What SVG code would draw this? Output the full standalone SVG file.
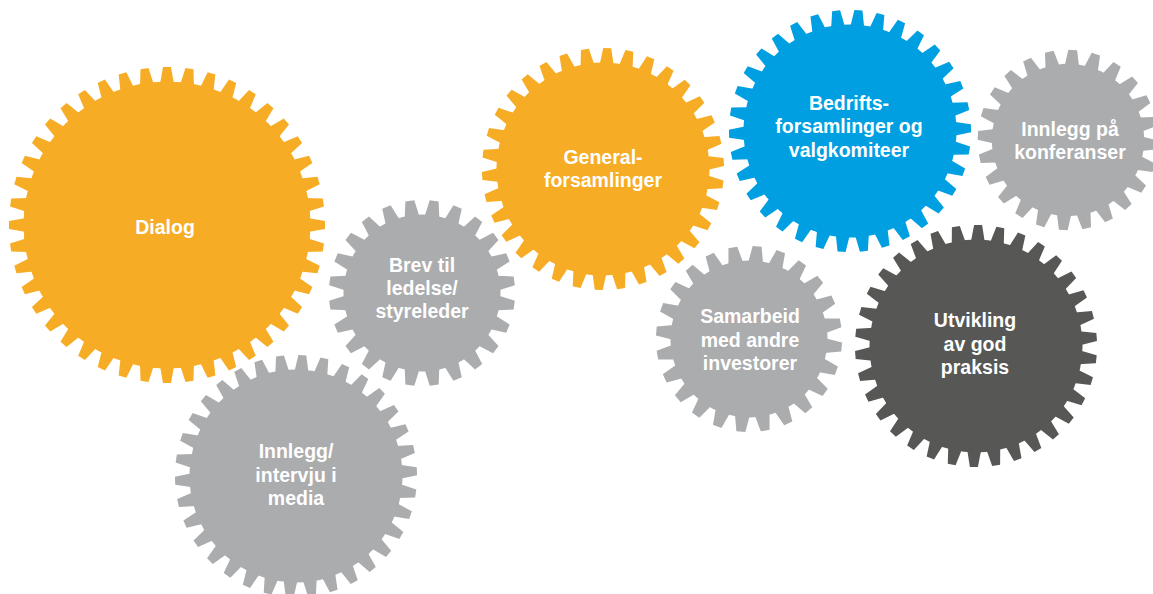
<svg xmlns="http://www.w3.org/2000/svg" xmlns:xlink="http://www.w3.org/1999/xlink" width="1153" height="594" viewBox="0 0 1153 594">
<style>
.orange{fill:#F7AC25}
.blue{fill:#009FE1}
.gray{fill:#ABACAE}
.dark{fill:#575756}
.lbl{font-family:"Liberation Sans",Arial,sans-serif;font-weight:700;font-size:19.5px;fill:#FFFFFF;text-anchor:middle}
</style>
<defs>
<polygon id="tL" points="-7,-141 -4,-158 4,-158 7,-141"/>
<polygon id="tM" points="-7,-104 -4,-121 4,-121 7,-104"/>
<polygon id="tS" points="-7.5,-76 -4.5,-93 4.5,-93 7.5,-76"/>
<g id="gearL">
<circle r="143.5"/>
<use href="#tL" transform="rotate(0)"/><use href="#tL" transform="rotate(8.1818)"/><use href="#tL" transform="rotate(16.3636)"/><use href="#tL" transform="rotate(24.5455)"/><use href="#tL" transform="rotate(32.7273)"/><use href="#tL" transform="rotate(40.9091)"/><use href="#tL" transform="rotate(49.0909)"/><use href="#tL" transform="rotate(57.2727)"/><use href="#tL" transform="rotate(65.4545)"/><use href="#tL" transform="rotate(73.6364)"/><use href="#tL" transform="rotate(81.8182)"/>
<use href="#tL" transform="rotate(90)"/><use href="#tL" transform="rotate(98.1818)"/><use href="#tL" transform="rotate(106.3636)"/><use href="#tL" transform="rotate(114.5455)"/><use href="#tL" transform="rotate(122.7273)"/><use href="#tL" transform="rotate(130.9091)"/><use href="#tL" transform="rotate(139.0909)"/><use href="#tL" transform="rotate(147.2727)"/><use href="#tL" transform="rotate(155.4545)"/><use href="#tL" transform="rotate(163.6364)"/><use href="#tL" transform="rotate(171.8182)"/>
<use href="#tL" transform="rotate(180)"/><use href="#tL" transform="rotate(188.1818)"/><use href="#tL" transform="rotate(196.3636)"/><use href="#tL" transform="rotate(204.5455)"/><use href="#tL" transform="rotate(212.7273)"/><use href="#tL" transform="rotate(220.9091)"/><use href="#tL" transform="rotate(229.0909)"/><use href="#tL" transform="rotate(237.2727)"/><use href="#tL" transform="rotate(245.4545)"/><use href="#tL" transform="rotate(253.6364)"/><use href="#tL" transform="rotate(261.8182)"/>
<use href="#tL" transform="rotate(270)"/><use href="#tL" transform="rotate(278.1818)"/><use href="#tL" transform="rotate(286.3636)"/><use href="#tL" transform="rotate(294.5455)"/><use href="#tL" transform="rotate(302.7273)"/><use href="#tL" transform="rotate(310.9091)"/><use href="#tL" transform="rotate(319.0909)"/><use href="#tL" transform="rotate(327.2727)"/><use href="#tL" transform="rotate(335.4545)"/><use href="#tL" transform="rotate(343.6364)"/><use href="#tL" transform="rotate(351.8182)"/>
</g>
<g id="gearM">
<circle r="106.5"/>
<use href="#tM" transform="rotate(0)"/><use href="#tM" transform="rotate(10.5882)"/><use href="#tM" transform="rotate(21.1765)"/><use href="#tM" transform="rotate(31.7647)"/><use href="#tM" transform="rotate(42.3529)"/><use href="#tM" transform="rotate(52.9412)"/><use href="#tM" transform="rotate(63.5294)"/><use href="#tM" transform="rotate(74.1176)"/><use href="#tM" transform="rotate(84.7059)"/>
<use href="#tM" transform="rotate(95.2941)"/><use href="#tM" transform="rotate(105.8824)"/><use href="#tM" transform="rotate(116.4706)"/><use href="#tM" transform="rotate(127.0588)"/><use href="#tM" transform="rotate(137.6471)"/><use href="#tM" transform="rotate(148.2353)"/><use href="#tM" transform="rotate(158.8235)"/><use href="#tM" transform="rotate(169.4118)"/>
<use href="#tM" transform="rotate(180)"/><use href="#tM" transform="rotate(190.5882)"/><use href="#tM" transform="rotate(201.1765)"/><use href="#tM" transform="rotate(211.7647)"/><use href="#tM" transform="rotate(222.3529)"/><use href="#tM" transform="rotate(232.9412)"/><use href="#tM" transform="rotate(243.5294)"/><use href="#tM" transform="rotate(254.1176)"/><use href="#tM" transform="rotate(264.7059)"/>
<use href="#tM" transform="rotate(275.2941)"/><use href="#tM" transform="rotate(285.8824)"/><use href="#tM" transform="rotate(296.4706)"/><use href="#tM" transform="rotate(307.0588)"/><use href="#tM" transform="rotate(317.6471)"/><use href="#tM" transform="rotate(328.2353)"/><use href="#tM" transform="rotate(338.8235)"/><use href="#tM" transform="rotate(349.4118)"/>
</g>
<g id="gearS">
<circle r="78.5"/>
<use href="#tS" transform="rotate(0)"/><use href="#tS" transform="rotate(15)"/><use href="#tS" transform="rotate(30)"/><use href="#tS" transform="rotate(45)"/><use href="#tS" transform="rotate(60)"/><use href="#tS" transform="rotate(75)"/>
<use href="#tS" transform="rotate(90)"/><use href="#tS" transform="rotate(105)"/><use href="#tS" transform="rotate(120)"/><use href="#tS" transform="rotate(135)"/><use href="#tS" transform="rotate(150)"/><use href="#tS" transform="rotate(165)"/>
<use href="#tS" transform="rotate(180)"/><use href="#tS" transform="rotate(195)"/><use href="#tS" transform="rotate(210)"/><use href="#tS" transform="rotate(225)"/><use href="#tS" transform="rotate(240)"/><use href="#tS" transform="rotate(255)"/>
<use href="#tS" transform="rotate(270)"/><use href="#tS" transform="rotate(285)"/><use href="#tS" transform="rotate(300)"/><use href="#tS" transform="rotate(315)"/><use href="#tS" transform="rotate(330)"/><use href="#tS" transform="rotate(345)"/>
</g>
</defs>
<g id="connectors"/>
<g id="dialog">
<use href="#gearL" class="orange" transform="translate(167,225) rotate(0)"/>
<text class="lbl" x="165" y="234">Dialog</text>
</g>
<g id="brev">
<use href="#gearS" class="gray" transform="translate(422,293) rotate(7.5)"/>
<text class="lbl" x="422" y="272">Brev til</text>
<text class="lbl" x="422" y="295">ledelse/</text>
<text class="lbl" x="422" y="318">styreleder</text>
</g>
<g id="media">
<use href="#gearM" class="gray" transform="translate(296,476) rotate(3)"/>
<text class="lbl" x="296" y="458">Innlegg/</text>
<text class="lbl" x="296" y="481.5">intervju i</text>
<text class="lbl" x="296" y="505">media</text>
</g>
<g id="generalforsamlinger">
<use href="#gearM" class="orange" transform="translate(603,169) rotate(2)"/>
<text class="lbl" x="603" y="164">General-</text>
<text class="lbl" x="603" y="187">forsamlinger</text>
</g>
<g id="bedriftsforsamlinger">
<use href="#gearM" class="blue" transform="translate(850,131) rotate(4)"/>
<text class="lbl" x="849" y="110">Bedrifts-</text>
<text class="lbl" x="849" y="133">forsamlinger og</text>
<text class="lbl" x="849" y="157">valgkomiteer</text>
</g>
<g id="konferanser">
<use href="#gearS" class="gray" transform="translate(1068,140) scale(0.97) rotate(3)"/>
<text class="lbl" x="1070" y="136">Innlegg på</text>
<text class="lbl" x="1070" y="159">konferanser</text>
</g>
<g id="samarbeid">
<use href="#gearS" class="gray" transform="translate(749,339) rotate(5)"/>
<text class="lbl" x="750" y="323">Samarbeid</text>
<text class="lbl" x="750" y="347">med andre</text>
<text class="lbl" x="750" y="370">investorer</text>
</g>
<g id="utvikling">
<use href="#gearM" class="dark" transform="translate(976,346) rotate(1)"/>
<text class="lbl" x="975" y="327">Utvikling</text>
<text class="lbl" x="975" y="350.5">av god</text>
<text class="lbl" x="975" y="374">praksis</text>
</g>
</svg>
